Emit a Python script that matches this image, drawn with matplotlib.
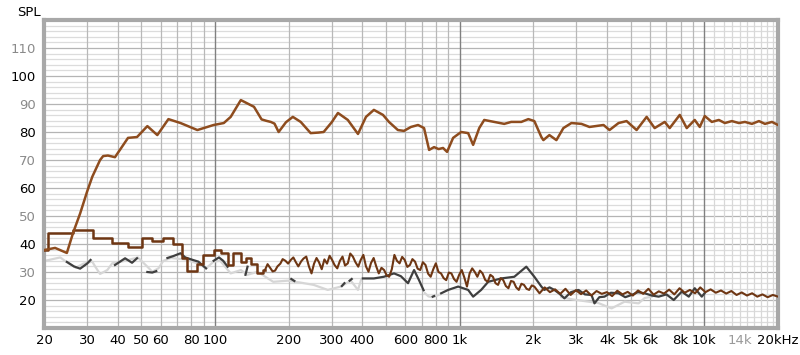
import numpy as np
import matplotlib.pyplot as plt

# Resposta principal (SPL)
freq_spl = [20.2, 22.2, 24.8, 26.3, 28.1, 30.0, 31.5, 33.9, 34.9, 36.5, 39.0, 44.1, 48.0,
            52.9, 58.1, 64.5, 72.3, 84.7, 98.7, 108.6, 115.9, 127.5, 144.3, 155, 162,
            169, 175, 182, 195, 208, 224, 246, 265, 278, 300, 318, 349, 384, 414, 446,
            486, 514, 559, 592, 632, 676, 715, 750, 786, 820, 855, 888, 940, 1014, 1083,
            1135, 1202, 1260, 1384, 1521, 1624, 1786, 1908, 2019, 2157, 2198, 2326, 2485,
            2654, 2862, 3146, 3392, 3872, 4096, 4460, 4810, 5286, 5810, 6264, 6886, 7218,
            7934, 8474, 9136, 9578, 10040, 10728, 11460, 12130, 12958, 13842, 14648,
            15646, 16716, 17692, 18900, 20000]
db_spl = [37.9, 38.6, 36.8, 44.0, 50.9, 58.7, 64.0, 70.0, 71.4, 71.6, 71.0, 77.9, 78.2,
          82.1, 78.9, 84.6, 83.2, 80.7, 82.5, 83.2, 85.4, 91.4, 89.0, 84.5, 84.0,
          83.6, 83.0, 80.0, 83.5, 85.4, 83.6, 79.6, 79.8, 80.0, 83.5, 86.8, 84.3, 79.3,
          85.4, 87.9, 86.1, 83.6, 80.7, 80.4, 81.8, 82.5, 81.4, 73.6, 74.6, 73.9, 74.3,
          72.9, 77.9, 80.0, 79.6, 75.4, 81.4, 84.3, 83.6, 82.9, 83.6, 83.6, 84.6, 83.9,
          78.2, 77.1, 78.9, 77.1, 81.4, 83.2, 82.9, 81.8, 82.5, 80.7, 83.2, 83.9, 80.7,
          85.4, 81.4, 83.6, 81.4, 86.1, 81.4, 84.3, 81.8, 85.7, 83.6, 84.3, 83.2, 83.9,
          83.2, 83.6, 82.9, 83.9, 82.9, 83.6, 82.5]

# Distorção - parte em degraus (baixas frequências)
freq_deg = [20.0, 20.8, 26.3, 31.8, 38.0, 44.0, 50.4, 55.4, 61.5, 67.6, 73.6, 77.1, 84.7,
            89.7, 98.7, 105.3, 112.6, 119.0, 127.5, 134.0, 140.6, 148.0, 157.0, 160.0]
db_deg = [38.0, 44.0, 45.0, 42.0, 40.5, 39.0, 42.0, 41.0, 42.0, 40.0, 35.0, 30.5, 33.0,
          36.0, 38.0, 36.7, 32.5, 36.9, 33.7, 35.0, 33.0, 29.5, 30.7, 30.7]

# Distorção - parte ruidosa
freq_dist = [160, 164, 168, 172, 176, 180, 185, 189, 194, 199, 204, 209, 214, 219, 225,
             230, 236, 242, 248, 254, 260, 266, 273, 280, 287, 294, 301, 308, 316, 324,
             332, 340, 349, 357, 366, 375, 385, 394, 404, 414, 424, 434, 445, 456, 467,
             479, 491, 503, 515, 528, 541, 554, 568, 582, 596, 611, 626, 641, 657, 673,
             690, 707, 725, 743, 761, 780, 799, 819, 839, 860, 881, 903, 925, 948, 971,
             995, 1020, 1045, 1071, 1098, 1125, 1153, 1181, 1210, 1240, 1271, 1302, 1334,
             1367, 1401, 1435, 1471, 1507, 1544, 1582, 1621, 1661, 1702, 1744, 1788, 1832,
             1877, 1923, 1971, 2019,
             2120, 2226, 2338, 2455, 2577, 2706, 2841, 2984, 3133, 3289, 3454, 3626, 3808,
             3998, 4198, 4408, 4628, 4860, 5103, 5358, 5626, 5907, 6202, 6513, 6838, 7180,
             7539, 7916, 8312, 8728, 9164, 9622, 10103, 10608, 11139, 11696, 12281, 12895,
             13540, 14217, 14927, 15674, 16457, 17280, 18144, 19052, 20000]
db_dist = [30.7, 32.8, 31.5, 30.2, 30.5, 32.0, 33.0, 34.6, 34.0, 33.0, 34.3, 35.2, 33.5,
           32.0, 33.8, 34.8, 35.5, 32.0, 29.5, 33.0, 35.0, 33.5, 31.0, 34.5, 33.0, 35.8,
           34.3, 32.5, 31.3, 34.0, 35.5, 32.3, 33.1, 36.6, 35.5, 33.5, 31.9, 34.3, 36.1,
           32.0, 30.1, 33.2, 35.0, 32.0, 29.5, 31.5, 30.7, 28.8, 28.3, 31.0, 36.1, 34.0,
           33.1, 35.4, 34.3, 31.8, 32.5, 34.6, 33.7, 31.2, 30.7, 33.5, 32.5, 29.4, 28.3,
           31.0, 33.1, 30.0, 29.5, 27.8, 27.1, 29.8, 29.5, 27.5, 26.5, 29.0, 30.7, 28.0,
           24.8, 29.5, 31.3, 30.0, 28.3, 30.5, 29.5, 27.2, 26.5, 29.0, 28.3, 26.0, 25.4,
           27.8, 27.1, 25.0, 24.2, 26.8, 26.5, 24.5, 23.6, 25.8, 25.4, 24.0, 23.6, 25.2,
           24.8,
           22.4, 24.5, 22.8, 23.8, 22.2, 24.0, 21.8, 23.5, 22.1, 23.4, 21.6, 23.2, 22.2,
           22.8, 21.4, 23.3, 22.0, 22.9, 21.6, 23.4, 22.2, 24.0, 21.9, 23.1, 22.3, 23.7,
           22.0, 24.2, 22.6, 23.6, 22.4, 24.5, 22.8, 23.8, 22.6, 23.4, 22.3, 23.2, 21.8,
           22.7, 21.6, 22.4, 21.2, 22.0, 21.0, 21.8, 21.2]

# Curva cinza clara
freq_claro = [20.2, 23.3, 24.8, 27.0, 29.0, 31.5, 32.4, 33.9, 36.3, 38.0, 42.9, 48.4, 52.9,
              55.4, 58.7, 61.5, 66.0, 75.0, 85.5, 91.9, 98.7, 105.0, 115.9, 127.5, 135.8,
              149.4, 164.5, 173, 198, 224, 253, 289, 327, 359, 384, 395, None,
              720, 745, 770, 800, 830, None,
              2600, 2900, 3300, 3692, 4176, 4720, 5386, 5700, 6100]
db_claro = [34.0, 35.2, 33.5, 31.5, 33.0, 33.7, 31.9, 29.3, 30.7, 33.1, 34.0, 35.2, 31.9,
            30.1, 31.3, 34.0, 35.0, 34.5, 33.0, 31.3, 33.7, 34.0, 29.5, 30.7, 29.0,
            30.1, 27.7, 26.5, 26.9, 26.2, 25.4, 23.6, 24.8, 26.9, 23.6, 27.1, None,
            22.5, 21.3, 21.0, 21.4, 22.0, None,
            21.0, 20.2, 19.5, 18.9, 17.0, 19.4, 18.8, 20.7, 21.2]

# Curva cinza escura (com falhas)
freq_escuro = [24.8, 26.5, 28.1, 30.0, 31.0, None,
               39.0, 42.9, 45.8, 48.0, None,
               52.9, 55.4, 57.5, None,
               63.9, 67.6, 72.3, 75.6, 81.2, 85.5, 91.9, None,
               98.7, 103.8, 108.0, 112.6, None,
               133.2, 135.8, None, 205, 211, None, 330, 338, None, 355, 362, None,
               402, 446, 490, 539, 575, 615, 651, 682, 712, None, 776, 786, None,
               840, 897, 986, 1083,
               1135, 1224, 1308, 1479, 1672, 1872, 2019, 2157, 2218, 2330, 2438, 2560,
               2680, 2850, 3058, 3250, 3458, 3556, 3720, 3908, 4150, 4460, 4750, 5044,
               5350, 5700, 6100, 6506, 7000, 7496, 8084, 8636, 9136, 9760, 10040]
db_escuro = [33.6, 32.0, 31.2, 33.0, 34.3, None,
             32.5, 34.9, 33.3, 34.9, None,
             30.0, 29.8, 30.3, None,
             35.0, 35.7, 36.7, 35.2, 34.3, 33.7, 31.3, None,
             34.0, 35.2, 34.0, 31.9, None,
             29.0, 31.9, None, 27.5, 26.8, None, 25.0, 26.0, None, 26.9, 27.5, None,
             27.7, 27.7, 28.3, 29.5, 28.5, 26.0, 30.7, 27.1, 23.5, None, 21.2, 21.4, None,
             22.4, 23.6, 24.8, 23.6,
             21.2, 23.6, 26.5, 27.7, 28.3, 31.9, 28.3, 24.8, 23.6, 24.5, 23.6, 22.2,
             20.6, 22.8, 23.6, 22.0, 21.8, 18.8, 21.0, 21.2, 22.6, 22.4, 21.0, 21.8,
             22.8, 22.4, 21.6, 21.2, 22.0, 20.0, 23.0, 21.2, 24.2, 21.2, 22.5]


def arr(v):
    return np.array([np.nan if a is None else a for a in v], dtype=float)


fig = plt.figure(figsize=(8, 3.55), dpi=100)
ax = fig.add_axes([44 / 800, 27 / 355, 734 / 800, 308 / 355])

ax.set_xscale('log')
ax.set_xlim(20, 20000)
ax.set_ylim(10, 120)

# Grade horizontal
for v in range(12, 120, 2):
    cor = '#b4b4b4' if v % 10 == 0 else '#dcdcdc'
    ax.axhline(v, color=cor, lw=0.9, zorder=0)

# Grade vertical
linhas_normais = [30, 40, 50, 60, 70, 80, 90, 200, 300, 400, 500, 600, 700, 800, 900,
                  2000, 3000, 4000, 5000, 6000, 7000, 8000, 9000]
linhas_decada = [100, 1000, 10000]
linhas_finas = [11000, 12000, 13000, 14000, 15000, 16000, 17000, 18000, 19000]
for f in linhas_normais:
    ax.axvline(f, color='#b8b8b8', lw=0.9, zorder=0)
for f in linhas_decada:
    ax.axvline(f, color='#808080', lw=1.0, zorder=0)
for f in linhas_finas:
    ax.axvline(f, color='#d8d8d8', lw=0.9, zorder=0)

# Curvas
ax.plot(arr(freq_claro), arr(db_claro), color='#d6d6d6', lw=1.6, zorder=2)
ax.plot(arr(freq_escuro), arr(db_escuro), color='#3f3f3f', lw=1.6, zorder=3)
ax.step(freq_deg, db_deg, where='post', color='#6e3613', lw=1.8, zorder=4)
ax.plot(freq_dist, db_dist, color='#6e3613', lw=1.5, zorder=4)
ax.plot(freq_spl, db_spl, color='#8e4c1e', lw=1.8, zorder=5)

# Eixos
xticks = [20, 30, 40, 50, 60, 80, 100, 200, 300, 400, 600, 800, 1000, 2000, 3000, 4000,
          5000, 6000, 8000, 10000, 14000, 20000]
xlabels = ['20', '30', '40', '50', '60', '80', '100', '200', '300', '400', '600', '800',
           '1k', '2k', '3k', '4k', '5k', '6k', '8k', '10k', '14k', '20kHz']
ax.set_xticks(xticks)
ax.set_xticklabels(xlabels)
ax.minorticks_off()
yticks = [20, 30, 40, 50, 60, 70, 80, 90, 100, 110]
ax.set_yticks(yticks)
ax.set_yticklabels([str(v) for v in yticks])
ax.tick_params(length=0, labelsize=9.5, pad=4)
ax.tick_params(axis='y', pad=6)
for lbl, v in zip(ax.get_yticklabels(), yticks):
    lbl.set_color('black' if v % 20 == 0 else '#8a8a8a')
for lbl, t in zip(ax.get_xticklabels(), xlabels):
    lbl.set_color('#9a9a9a' if t == '14k' else 'black')

for s in ax.spines.values():
    s.set_color('#a8a8a8')
    s.set_linewidth(3)

fig.text(17 / 800, 1 - 12 / 355, 'SPL', fontsize=9.5, va='center', ha='left')

plt.savefig('out.png', dpi=100)
